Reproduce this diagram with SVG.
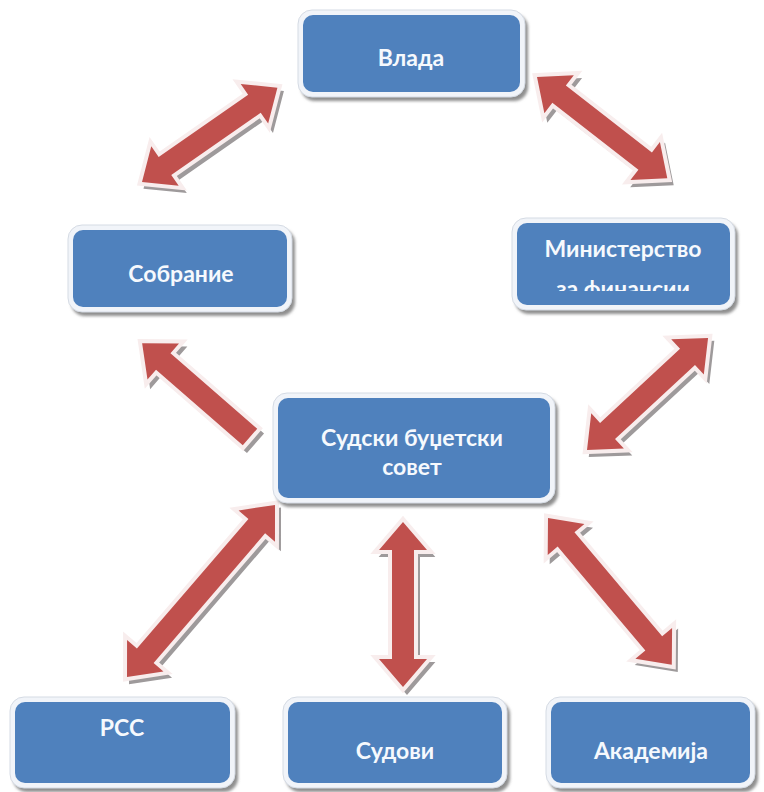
<svg xmlns="http://www.w3.org/2000/svg" xmlns:xlink="http://www.w3.org/1999/xlink" width="764" height="792" viewBox="0 0 764 792">
<style>
.sh{fill:#9e9a9b;stroke:#9e9a9b;stroke-width:4;stroke-linejoin:miter}
.ar{fill:#c0504d;stroke:#f8eded;stroke-width:8;stroke-linejoin:miter;paint-order:stroke}
.bsh{fill:#8f8f8f}
.frame{fill:#f1f4f9;stroke:#d5dbe4;stroke-width:1}
.box{fill:#4f81bd}
.t{font-family:Lato,"Open Sans","Liberation Sans",sans-serif;font-weight:bold;font-size:23px;fill:#f6f9fd;text-anchor:middle}
</style>
<defs>
<filter id="blur" x="-10%" y="-10%" width="120%" height="130%"><feGaussianBlur stdDeviation="1.5"/></filter>
<polygon id="d165" points="0,0 28,-24 28,-11 137,-11 137,-24 165,0 137,24 137,11 28,11 28,24"/>
<polygon id="d227" points="0,0 28,-24 28,-11 199,-11 199,-24 227,0 199,24 199,11 28,11 28,24"/>
<polygon id="d192" points="0,0 28,-24 28,-11 164,-11 164,-24 192,0 164,24 164,11 28,11 28,24"/>
<polygon id="s143" points="0,-11 115,-11 115,-24 143,0 115,24 115,11 0,11"/>
<clipPath id="mclip"><rect x="517" y="223" width="213" height="68"/></clipPath>
</defs>
<rect width="764" height="792" fill="#ffffff"/>

<g id="connectors">
  <g id="c-sobranie-vlada">
    <use href="#d165" class="sh" transform="translate(146,187) rotate(-34.85)"/>
    <use href="#d165" class="ar" transform="translate(142,182) rotate(-34.85)"/>
  </g>
  <g id="c-vlada-ministerstvo">
    <use href="#d165" class="sh" transform="translate(541,82) rotate(37.85)"/>
    <use href="#d165" class="ar" transform="translate(537,77) rotate(37.85)"/>
  </g>
  <g id="c-ministerstvo-sudski">
    <use href="#d165" class="sh" transform="translate(591,455) rotate(-42.8)"/>
    <use href="#d165" class="ar" transform="translate(587,450) rotate(-42.8)"/>
  </g>
  <g id="c-sudski-sobranie">
    <use href="#s143" class="sh" transform="translate(254,442) rotate(-138.97)"/>
    <use href="#s143" class="ar" transform="translate(250,437) rotate(-138.97)"/>
  </g>
  <g id="c-sudski-rss">
    <use href="#d227" class="sh" transform="translate(131,682) rotate(-49.3)"/>
    <use href="#d227" class="ar" transform="translate(127,677) rotate(-49.3)"/>
  </g>
  <g id="c-sudski-sudovi">
    <use href="#d165" class="sh" transform="translate(407,527) rotate(90)"/>
    <use href="#d165" class="ar" transform="translate(403,522) rotate(90)"/>
  </g>
  <g id="c-sudski-akademija">
    <use href="#d192" class="sh" transform="translate(552,523) rotate(49.85)"/>
    <use href="#d192" class="ar" transform="translate(548,518) rotate(49.85)"/>
  </g>
</g>

<g id="vlada">
  <rect class="bsh" x="301" y="14" width="227" height="87" rx="14" filter="url(#blur)"/>
  <rect class="frame" x="298" y="10" width="227" height="87" rx="14"/>
  <rect class="box" x="303" y="15" width="217" height="77" rx="10"/>
  <text class="t" x="411" y="66">Влада</text>
</g>

<g id="ministerstvo">
  <rect class="bsh" x="515" y="222" width="223" height="92" rx="14" filter="url(#blur)"/>
  <rect class="frame" x="512" y="218" width="223" height="92" rx="14"/>
  <rect class="box" x="517" y="223" width="213" height="82" rx="10"/>
  <g clip-path="url(#mclip)">
    <text class="t" x="623" y="257">Министерство</text>
    <text class="t" x="623" y="297">за финансии</text>
  </g>
</g>

<g id="sobranie">
  <rect class="bsh" x="71" y="229" width="224" height="87" rx="14" filter="url(#blur)"/>
  <rect class="frame" x="68" y="225" width="224" height="87" rx="14"/>
  <rect class="box" x="73" y="230" width="214" height="77" rx="10"/>
  <text class="t" x="181" y="282">Собрание</text>
</g>

<g id="sudski">
  <rect class="bsh" x="276" y="397" width="282" height="110" rx="14" filter="url(#blur)"/>
  <rect class="frame" x="273" y="393" width="282" height="110" rx="14"/>
  <rect class="box" x="278" y="398" width="272" height="100" rx="10"/>
  <text class="t" x="412" y="446">Судски буџетски</text>
  <text class="t" x="412" y="475">совет</text>
</g>

<g id="rss">
  <rect class="bsh" x="13" y="701" width="225" height="91" rx="14" filter="url(#blur)"/>
  <rect class="frame" x="10" y="697" width="225" height="91" rx="14"/>
  <rect class="box" x="15" y="702" width="215" height="81" rx="10"/>
  <text class="t" x="122" y="736">РСС</text>
</g>

<g id="sudovi">
  <rect class="bsh" x="286" y="701" width="224" height="91" rx="14" filter="url(#blur)"/>
  <rect class="frame" x="283" y="697" width="224" height="91" rx="14"/>
  <rect class="box" x="288" y="702" width="214" height="81" rx="10"/>
  <text class="t" x="395" y="759">Судови</text>
</g>

<g id="akademija">
  <rect class="bsh" x="549" y="701" width="209" height="91" rx="14" filter="url(#blur)"/>
  <rect class="frame" x="546" y="697" width="209" height="91" rx="14"/>
  <rect class="box" x="551" y="702" width="199" height="81" rx="10"/>
  <text class="t" x="651" y="759">Академија</text>
</g>
</svg>
